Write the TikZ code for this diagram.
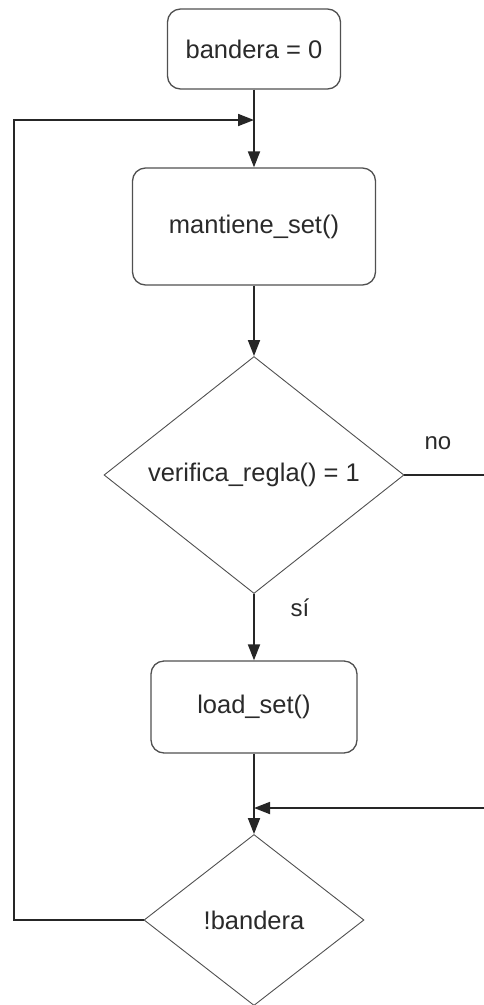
\documentclass[tikz,border=0pt]{standalone}
\usepackage{fontspec}
\setmainfont{Liberation Sans}
\usetikzlibrary{shapes.geometric,arrows.meta}
\definecolor{txt}{HTML}{2A2A2A}
\definecolor{edge}{HTML}{505050}
\tikzset{
  x=1pt,y=1pt,
  every node/.style={font=\fontsize{25.5}{29}\selectfont, text=txt},
  procbox/.style={draw=edge, line width=1.3pt, rounded corners=13pt, inner sep=0pt},
  decision/.style={diamond, draw=edge, line width=0.9pt, inner sep=0pt},
  flow/.style={draw=black!85, line width=1.8pt},
  arr/.style={flow, -{Triangle[length=16pt,width=12pt]}},
  lbl/.style={font=\fontsize{24}{28}\selectfont}
}
\begin{document}
\begin{tikzpicture}
\useasboundingbox (0,0) rectangle (484,-1005);
\node[procbox, minimum width=173pt, minimum height=80pt] (b0) at (254,-49) {bandera = 0};
\node[procbox, minimum width=243pt, minimum height=117pt] (ms) at (254,-226.5) {mantiene\_set()};
\node[decision, minimum width=300pt, minimum height=237pt] (vr) at (254,-475) {verifica\_regla() = 1};
\node[procbox, minimum width=206pt, minimum height=92pt] (ls) at (254,-707) {load\_set()};
\node[decision, minimum width=220pt, minimum height=171pt] (nb) at (254,-920) {!bandera};
\coordinate (J1) at (254,-120);
\coordinate (L) at (14,-920);
\coordinate (R1) at (484,-475);
\coordinate (R2) at (484,-808);
\coordinate (J2) at (254,-808);
\draw[arr] (b0.south) -- (ms.north);
\draw[arr] (nb.west) -- (L) |- (J1);
\draw[arr] (ms.south) -- (vr.north);
\draw[flow] (vr.east) -- (R1);
\node[lbl] (no) at (438,-443) {no};
\draw[arr] (vr.south) -- (ls.north);
\node[lbl] (si) at (300,-608) {sí};
\draw[arr] (ls.south) -- (nb.north);
\draw[arr] (R2) -- (J2);
\end{tikzpicture}
\end{document}
